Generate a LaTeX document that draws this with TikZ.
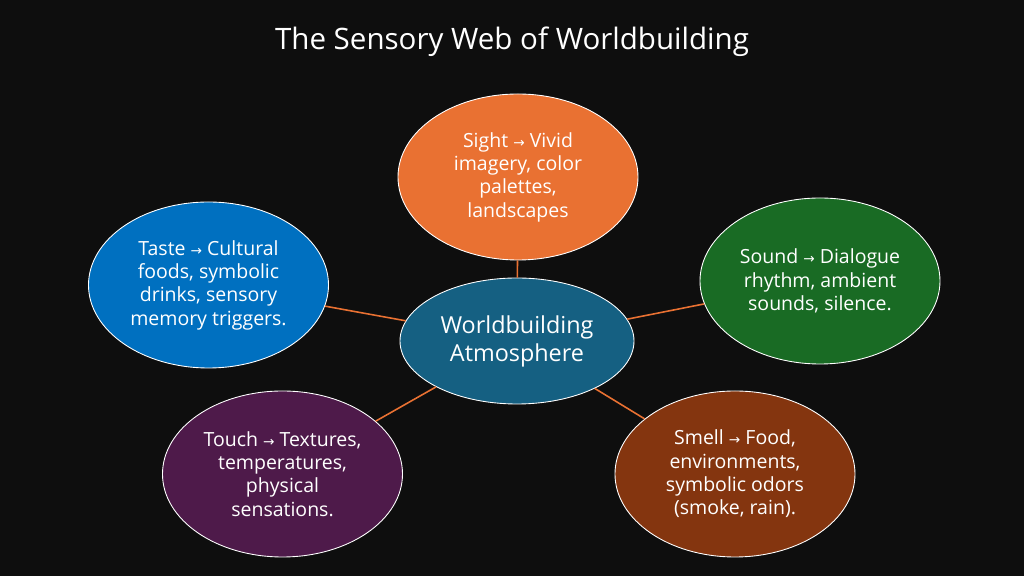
\documentclass[tikz,border=0pt]{standalone}
\usepackage{fontspec}
\setmainfont{Open Sans}
\newfontfamily\arrowfont{DejaVu Sans}
\usetikzlibrary{shapes.geometric}
\definecolor{bgblack}{HTML}{0E0E0E}
\definecolor{sightorange}{HTML}{E97132}
\definecolor{coreblue}{HTML}{156082}
\definecolor{soundgreen}{HTML}{196B24}
\definecolor{tasteblue}{HTML}{0070C0}
\definecolor{touchpurple}{HTML}{4E1A4A}
\definecolor{smellbrown}{HTML}{84350F}
\newcommand{\toarrow}{{\arrowfont\scalebox{.7}{→}}}
\tikzstyle{every node}=[font=\fontsize{11.1pt}{13.3pt}\selectfont,text=white]
\tikzstyle{sense}=[ellipse,draw=white,line width=.5pt,inner sep=0pt,
  minimum width=4.8cm,minimum height=3.32cm,align=center]
\tikzstyle{spoke}=[sightorange,line width=.9pt]

\begin{document}
\begin{tikzpicture}
    \fill[bgblack] (0,0) rectangle (20.48,11.52);
    \useasboundingbox (0,0) rectangle (20.48,11.52);

    \node (title) at (10.24,10.69) {\fontsize{16.8pt}{20pt}\selectfont The Sensory Web of Worldbuilding};

    \node[sense,fill=coreblue,minimum width=4.68cm,minimum height=2.52cm,
      font=\fontsize{13.3pt}{16pt}\selectfont] (core) at (10.34,4.7) {Worldbuilding\\Atmosphere};

    \node[sense,fill=sightorange] (sight) at (10.36,7.98)
      {Sight \toarrow{} Vivid\\imagery, color\\palettes,\\landscapes};
    \node[sense,fill=soundgreen] (sound) at (16.4,5.9)
      {Sound \toarrow{} Dialogue\\rhythm, ambient\\sounds, silence.};
    \node[sense,fill=smellbrown] (smell) at (14.7,2.04)
      {Smell \toarrow{} Food,\\environments,\\symbolic odors\\(smoke, rain).};
    \node[sense,fill=touchpurple] (touch) at (5.65,2.04)
      {Touch \toarrow{} Textures,\\temperatures,\\physical\\sensations.};
    \node[sense,fill=tasteblue] (taste) at (4.17,5.82)
      {Taste \toarrow{} Cultural\\foods, symbolic\\drinks, sensory\\memory triggers.};

    \foreach \s in {sight,sound,smell,touch,taste}
      \draw[spoke] (core)--(\s);
\end{tikzpicture}
\end{document}
